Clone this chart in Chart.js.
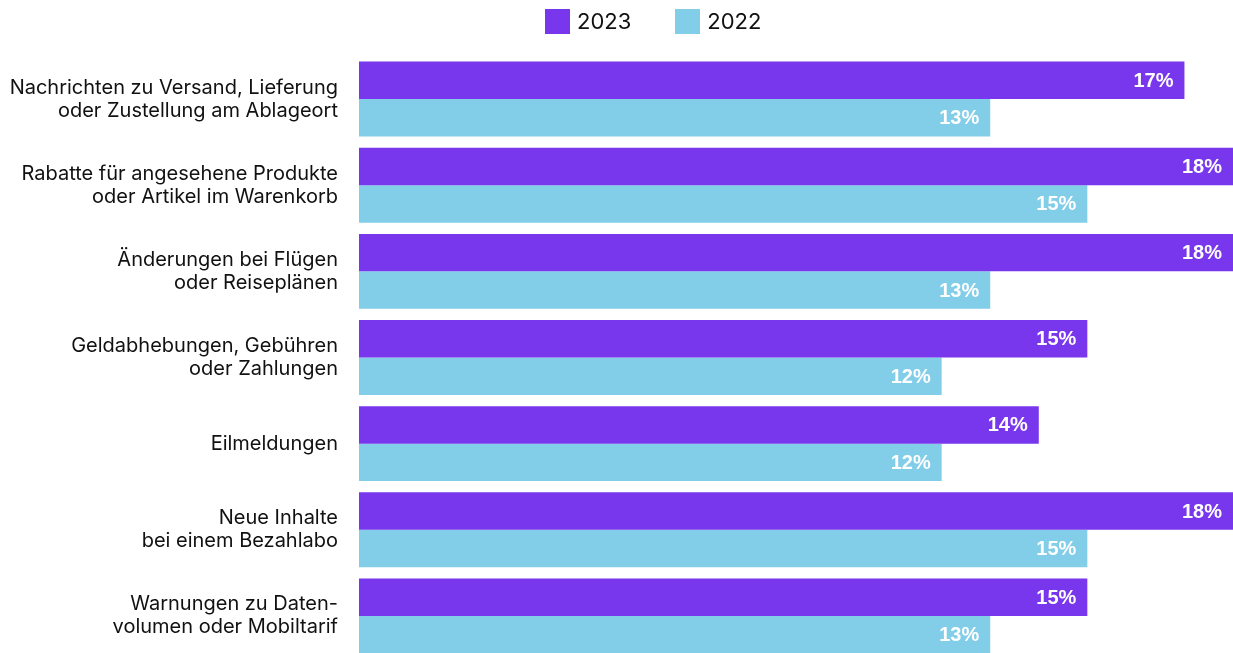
<!DOCTYPE html>
<html>
<head>
<meta charset="utf-8">
<script src="https://cdn.jsdelivr.net/npm/chart.js@4.4.1/dist/chart.umd.min.js"></script>
<style>
  html, body { margin: 0; padding: 0; background: #fff; overflow: hidden; }
  #wrap { width: 1233px; height: 659px; position: relative; }
  #legend { position: absolute; top: 8px; left: 545px; display: flex; align-items: center;
            font-family: Inter, sans-serif; font-size: 22px; color: #111; }
  .item { display: flex; align-items: center; margin-right: 44px; }
  .box { width: 25px; height: 25px; margin-right: 7px; }
</style>
</head>
<body>
<div id="wrap">
  <canvas id="barChart" width="1233" height="659"></canvas>
  <div id="legend"></div>
</div>
<script>
  // Categories (multi-line labels)
  const categories = [
    ['Nachrichten zu Versand, Lieferung', 'oder Zustellung am Ablageort'],
    ['Rabatte für angesehene Produkte', 'oder Artikel im Warenkorb'],
    ['Änderungen bei Flügen', 'oder Reiseplänen'],
    ['Geldabhebungen, Gebühren', 'oder Zahlungen'],
    'Eilmeldungen',
    ['Neue Inhalte', 'bei einem Bezahlabo'],
    ['Warnungen zu Daten-', 'volumen oder Mobiltarif']
  ];
  const values2023 = [17, 18, 18, 15, 14, 18, 15];
  const values2022 = [13, 15, 13, 12, 12, 15, 13];
  const seriesNames = ['2023', '2022'];
  const seriesColors = ['#7837ED', '#82CDE8'];

  // Draw the percentage labels inside the bar ends
  const valueLabels = {
    id: 'valueLabels',
    afterDatasetsDraw(chart) {
      const ctx = chart.ctx;
      ctx.save();
      ctx.fillStyle = '#ffffff';
      ctx.font = 'bold 20px "Liberation Sans", Arial, sans-serif';
      ctx.textAlign = 'right';
      ctx.textBaseline = 'middle';
      chart.data.datasets.forEach((ds, i) => {
        const meta = chart.getDatasetMeta(i);
        meta.data.forEach((bar, j) => {
          ctx.fillText(ds.data[j] + '%', bar.x - 11, bar.y + 1);
        });
      });
      ctx.restore();
    }
  };

  const bar = document.getElementById('barChart');
  const barChart = new Chart(bar, {
    type: 'bar',
    data: {
      labels: categories,
      datasets: [{
        label: seriesNames[0],
        data: values2023,
        backgroundColor: seriesColors[0],
        barPercentage: 1,
        categoryPercentage: 0.87
      }, {
        label: seriesNames[1],
        data: values2022,
        backgroundColor: seriesColors[1],
        barPercentage: 1,
        categoryPercentage: 0.87
      }]
    },
    options: {
      indexAxis: 'y',
      responsive: false,
      animation: false,
      layout: { padding: { top: 56, right: 0, bottom: 0, left: 0 } },
      scales: {
        x: {
          display: false,
          min: 0,
          max: 18
        },
        y: {
          grid: { display: false },
          border: { display: false },
          afterFit: scale => {
            scale.width = 359;
            scale.paddingTop = 0;
            scale.paddingBottom = 0;
          },
          ticks: {
            color: '#111111',
            padding: 13,
            font: { family: 'Inter', size: 20, lineHeight: 1.15 }
          }
        }
      },
      plugins: {
        legend: { display: false },
        tooltip: { enabled: false }
      }
    },
    plugins: [valueLabels]
  });

  // HTML legend
  const legend = document.getElementById('legend');
  seriesNames.forEach((name, i) => {
    const item = document.createElement('div');
    item.className = 'item';
    const box = document.createElement('div');
    box.className = 'box';
    box.style.background = seriesColors[i];
    const text = document.createElement('span');
    text.textContent = name;
    item.appendChild(box);
    item.appendChild(text);
    legend.appendChild(item);
  });
</script>
</body>
</html>
